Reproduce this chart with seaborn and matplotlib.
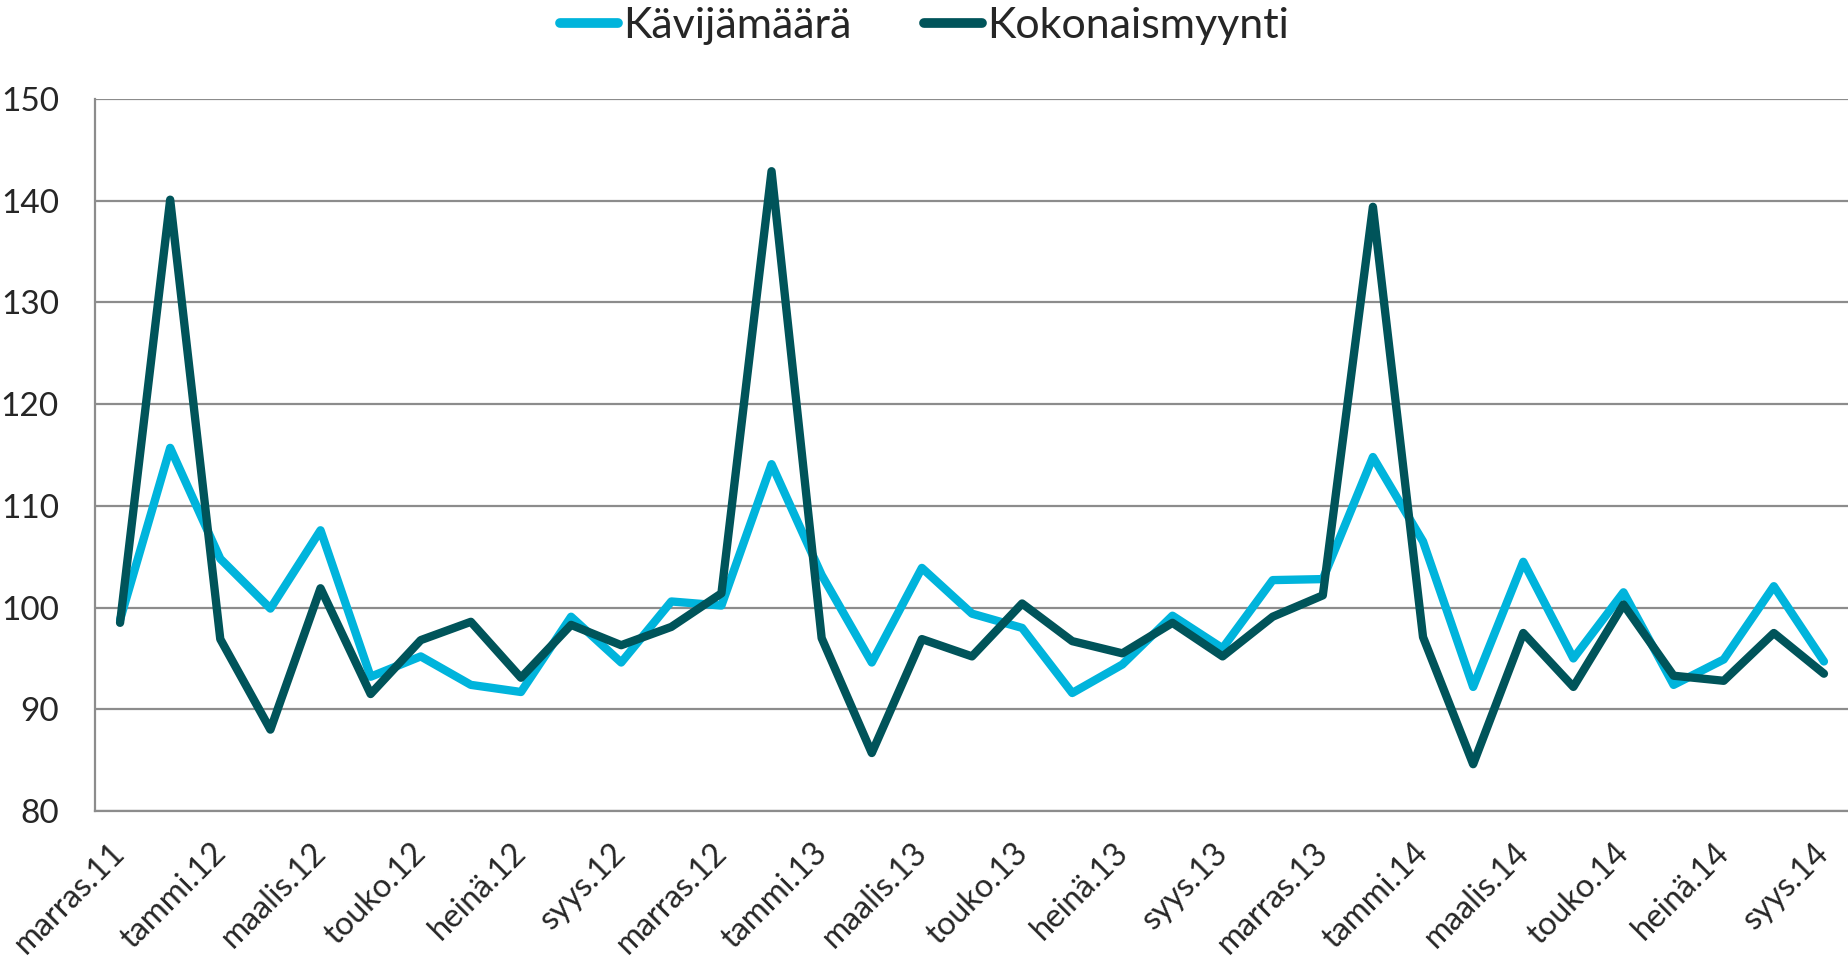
import numpy as np
import pandas as pd
import matplotlib
matplotlib.use("Agg")
import matplotlib.pyplot as plt
import matplotlib.transforms as mtransforms
from matplotlib.lines import Line2D
import seaborn as sns

months = ["marras.11", "joulu.11", "tammi.12", "helmi.12", "maalis.12", "huhti.12",
          "touko.12", "kesä.12", "heinä.12", "elo.12", "syys.12", "loka.12",
          "marras.12", "joulu.12", "tammi.13", "helmi.13", "maalis.13", "huhti.13",
          "touko.13", "kesä.13", "heinä.13", "elo.13", "syys.13", "loka.13",
          "marras.13", "joulu.13", "tammi.14", "helmi.14", "maalis.14", "huhti.14",
          "touko.14", "kesä.14", "heinä.14", "elo.14", "syys.14"]

kavijamaara = [98.8, 115.7, 104.8, 99.9, 107.6, 93.2, 95.2, 92.4, 91.7, 99.1,
               94.6, 100.6, 100.2, 114.1, 103.2, 94.6, 103.9, 99.4, 98.0, 91.6,
               94.4, 99.2, 96.0, 102.7, 102.8, 114.8, 106.5, 92.2, 104.5, 95.0,
               101.5, 92.4, 94.9, 102.1, 94.7]

kokonaismyynti = [98.5, 140.1, 96.9, 88.0, 101.9, 91.5, 96.8, 98.6, 93.1, 98.3,
                  96.3, 98.1, 101.4, 142.9, 97.0, 85.7, 96.9, 95.2, 100.4, 96.7,
                  95.5, 98.5, 95.2, 99.1, 101.2, 139.4, 97.1, 84.6, 97.5, 92.2,
                  100.3, 93.3, 92.8, 97.5, 93.5]

series_names = ["Kävijämäärä", "Kokonaismyynti"]
colors = ["#00B4DC", "#00545A"]
y_ticks = [80, 90, 100, 110, 120, 130, 140, 150]

n = len(months)
df = pd.DataFrame({
    "idx": list(range(n)) * 2,
    "value": kavijamaara + kokonaismyynti,
    "series": [series_names[0]] * n + [series_names[1]] * n,
})

sns.set_style("white")
plt.rcParams["font.family"] = ["Lato", "DejaVu Sans"]

fig = plt.figure(figsize=(18.49, 9.60), dpi=100)
ax = fig.add_axes([95 / 1849, 1 - 811 / 960, 1 - 95 / 1849, (811 - 99) / 960])

sns.lineplot(data=df, x="idx", y="value", hue="series", palette=colors,
             linewidth=6, ax=ax, legend=False, sort=False)
for line in ax.lines:
    line.set_solid_joinstyle("round")
    line.set_solid_capstyle("round")

ax.set_xlim(-0.5, n - 0.5)
ax.set_ylim(80, 150)
ax.set_yticks(y_ticks)
ax.set_yticklabels([str(t) for t in y_ticks])
ax.yaxis.grid(True, color="#8C8C8C", linewidth=1.6)
ax.set_axisbelow(True)

# category boundary ticks every two months
ax.set_xticks(np.arange(-0.5, n - 0.5, 2))
ax.set_xticklabels([])
ax.tick_params(axis="x", which="major", length=8, width=1.4, color="#8C8C8C", direction="out")
ax.tick_params(axis="y", length=8, width=1.4, color="#8C8C8C", direction="out",
               labelsize=24, pad=18)

label_idx = list(range(0, n, 2))
ax.set_xticks(label_idx, minor=True)
ax.set_xticklabels([months[i] for i in label_idx], minor=True, rotation=45,
                   ha="right", va="top", rotation_mode="anchor", fontsize=23.5)
ax.tick_params(axis="x", which="minor", length=0, pad=19)
offset = mtransforms.ScaledTranslation(-10 / 100, 0, fig.dpi_scale_trans)
for lbl in ax.get_xticklabels(minor=True):
    lbl.set_transform(lbl.get_transform() + offset)

for side in ["top", "right"]:
    ax.spines[side].set_visible(False)
for side in ["left", "bottom"]:
    ax.spines[side].set_color("#8C8C8C")
    ax.spines[side].set_linewidth(1.6)

ax.set_xlabel("")
ax.set_ylabel("")

handles = [Line2D([0], [0], color=c, linewidth=7, solid_capstyle="round") for c in colors]
fig.legend(handles, series_names, loc="center", bbox_to_anchor=(0.5, 1 - 26 / 960),
           ncol=2, frameon=False, fontsize=31, handlelength=1.35, handletextpad=0.1,
           columnspacing=1.7)

# draw dark line above light line
ax.lines[1].set_zorder(3)
ax.lines[0].set_zorder(2)

fig.savefig("out.png", dpi=100)
